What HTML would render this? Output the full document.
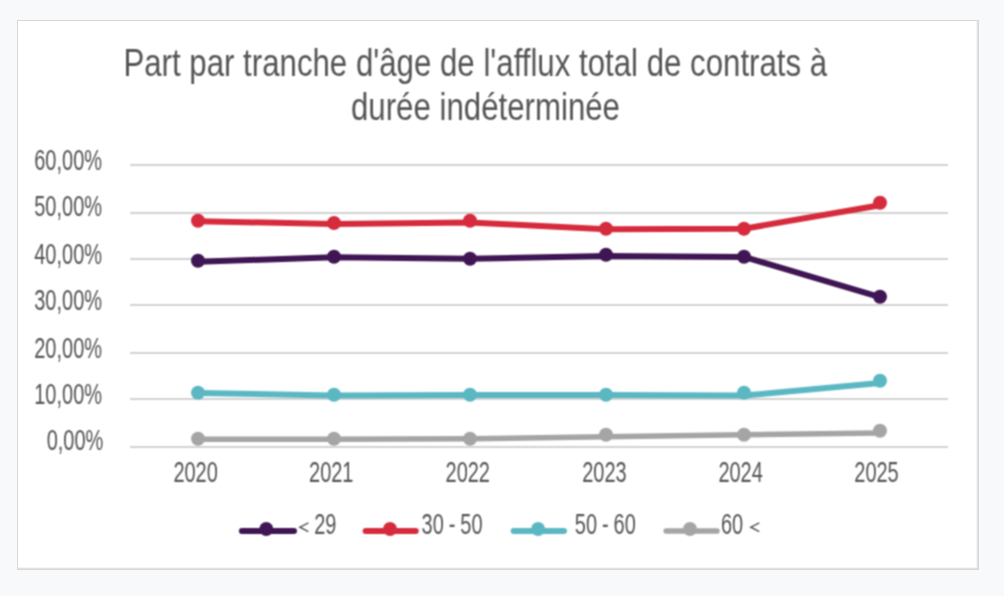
<!DOCTYPE html><html><head><meta charset="utf-8"><title>Chart</title><style>
html,body{margin:0;padding:0;background:#f8f9fb;width:1004px;height:596px;overflow:hidden}svg{display:block}text{font-family:"Liberation Sans",sans-serif;fill:#555555}
</style></head><body>
<svg width="1004" height="596" viewBox="0 0 1004 596">
<rect x="0" y="0" width="1004" height="596" fill="#f8f9fb"/>
<rect x="17" y="20" width="962" height="550" fill="#d8d8d8"/>
<defs><filter id="b" x="18" y="21" width="960" height="548" filterUnits="userSpaceOnUse" color-interpolation-filters="sRGB"><feConvolveMatrix order="3" kernelMatrix="1 2 1 2 4 2 1 2 1" divisor="16" edgeMode="duplicate" preserveAlpha="true"/></filter></defs><g filter="url(#b)">
<rect x="10" y="10" width="980" height="570" fill="#ffffff"/>
<rect x="977" y="10" width="10" height="570" fill="#d8d8d8"/>
<rect x="10" y="568" width="980" height="10" fill="#d8d8d8"/>
<text transform="translate(123.4 76.15) scale(0.7905 1)" font-size="39.5" text-anchor="start">Part par tranche d'âge de l'afflux total de contrats à</text>
<text transform="translate(351 119.6) scale(0.7905 1)" font-size="39.5" text-anchor="start">durée indéterminée</text>
<line x1="130" y1="165" x2="948" y2="165" stroke="#d2d2d2" stroke-width="1.8"/>
<line x1="130" y1="213" x2="948" y2="213" stroke="#d2d2d2" stroke-width="1.8"/>
<line x1="130" y1="259" x2="948" y2="259" stroke="#d2d2d2" stroke-width="1.8"/>
<line x1="130" y1="305" x2="948" y2="305" stroke="#d2d2d2" stroke-width="1.8"/>
<line x1="130" y1="353" x2="948" y2="353" stroke="#d2d2d2" stroke-width="1.8"/>
<line x1="130" y1="399" x2="948" y2="399" stroke="#d2d2d2" stroke-width="1.8"/>
<line x1="130" y1="447" x2="948" y2="447" stroke="#d2d2d2" stroke-width="1.8"/>
<text transform="translate(102 170.25) scale(0.699 1)" font-size="28.6" text-anchor="end">60,00%</text>
<text transform="translate(102 215.95) scale(0.699 1)" font-size="28.6" text-anchor="end">50,00%</text>
<text transform="translate(102 263.95) scale(0.699 1)" font-size="28.6" text-anchor="end">40,00%</text>
<text transform="translate(102 310.25) scale(0.699 1)" font-size="28.6" text-anchor="end">30,00%</text>
<text transform="translate(102 358.45) scale(0.699 1)" font-size="28.6" text-anchor="end">20,00%</text>
<text transform="translate(102 403.85) scale(0.699 1)" font-size="28.6" text-anchor="end">10,00%</text>
<text transform="translate(103.3 449.75) scale(0.699 1)" font-size="28.6" text-anchor="end">0,00%</text>
<text transform="translate(195.6 482.25) scale(0.699 1)" font-size="28.6" text-anchor="middle">2020</text>
<text transform="translate(331.25 482.25) scale(0.699 1)" font-size="28.6" text-anchor="middle">2021</text>
<text transform="translate(467.75 482.25) scale(0.699 1)" font-size="28.6" text-anchor="middle">2022</text>
<text transform="translate(604.4 482.25) scale(0.699 1)" font-size="28.6" text-anchor="middle">2023</text>
<text transform="translate(740.6 482.25) scale(0.699 1)" font-size="28.6" text-anchor="middle">2024</text>
<text transform="translate(876.5 482.25) scale(0.699 1)" font-size="28.6" text-anchor="middle">2025</text>
<polyline points="198,439.25 334,439.25 470,438.75 606,436.75 744,434.75 880,432.95" fill="none" stroke="#a5a5a5" stroke-width="5.5" stroke-linecap="round" stroke-linejoin="round"/>
<circle cx="198" cy="438.75" r="7" fill="#a5a5a5"/>
<circle cx="334" cy="438.75" r="7" fill="#a5a5a5"/>
<circle cx="470" cy="438.75" r="7" fill="#a5a5a5"/>
<circle cx="606" cy="434.75" r="7" fill="#a5a5a5"/>
<circle cx="744" cy="434.75" r="7" fill="#a5a5a5"/>
<circle cx="880" cy="430.75" r="7" fill="#a5a5a5"/>
<polyline points="198,392.95 334,395.45 470,395.05 606,395.05 744,395.6 880,383.1" fill="none" stroke="#5bb8c3" stroke-width="6" stroke-linecap="round" stroke-linejoin="round"/>
<circle cx="198" cy="392.75" r="7" fill="#5bb8c3"/>
<circle cx="334" cy="394.75" r="7" fill="#5bb8c3"/>
<circle cx="470" cy="394.75" r="7" fill="#5bb8c3"/>
<circle cx="606" cy="394.75" r="7" fill="#5bb8c3"/>
<circle cx="744" cy="392.75" r="7" fill="#5bb8c3"/>
<circle cx="880" cy="380.75" r="7" fill="#5bb8c3"/>
<polyline points="198,261.85 334,257.25 470,258.75 606,255.95 744,256.95 880,297.05" fill="none" stroke="#3f1554" stroke-width="6" stroke-linecap="round" stroke-linejoin="round"/>
<circle cx="198" cy="260.75" r="7" fill="#3f1554"/>
<circle cx="334" cy="256.75" r="7" fill="#3f1554"/>
<circle cx="470" cy="258.75" r="7" fill="#3f1554"/>
<circle cx="606" cy="254.75" r="7" fill="#3f1554"/>
<circle cx="744" cy="256.75" r="7" fill="#3f1554"/>
<circle cx="880" cy="296.75" r="7" fill="#3f1554"/>
<polyline points="198,221.25 334,224 470,222.45 606,229.25 744,228.75 880,205.25" fill="none" stroke="#d62b3d" stroke-width="6" stroke-linecap="round" stroke-linejoin="round"/>
<circle cx="198" cy="220.75" r="7" fill="#d62b3d"/>
<circle cx="334" cy="223" r="7" fill="#d62b3d"/>
<circle cx="470" cy="220.75" r="7" fill="#d62b3d"/>
<circle cx="606" cy="228.75" r="7" fill="#d62b3d"/>
<circle cx="744" cy="228.75" r="7" fill="#d62b3d"/>
<circle cx="880" cy="202.75" r="7" fill="#d62b3d"/>
<line x1="241.9" y1="531" x2="294" y2="531" stroke="#3f1554" stroke-width="6" stroke-linecap="round"/>
<circle cx="266.25" cy="529" r="7" fill="#3f1554"/>
<text transform="translate(314.2 534.3) scale(0.699 1)" font-size="28.6" word-spacing="-0.9">29</text>
<polyline points="308.40000000000003,522.8 299.90000000000003,527.2 308.40000000000003,531.6" fill="none" stroke="#555555" stroke-width="1.5"/>
<line x1="365.65" y1="531" x2="415.75" y2="531" stroke="#d62b3d" stroke-width="6" stroke-linecap="round"/>
<circle cx="390" cy="529" r="7" fill="#d62b3d"/>
<text transform="translate(421.6 534.3) scale(0.699 1)" font-size="28.6" word-spacing="-0.9">30 - 50</text>
<line x1="513.65" y1="531" x2="564" y2="531" stroke="#5bb8c3" stroke-width="6" stroke-linecap="round"/>
<circle cx="538.1" cy="529" r="7" fill="#5bb8c3"/>
<text transform="translate(574.85 534.3) scale(0.699 1)" font-size="28.6" word-spacing="-0.9">50 - 60</text>
<line x1="666.15" y1="531" x2="717" y2="531" stroke="#a5a5a5" stroke-width="5.5" stroke-linecap="round"/>
<circle cx="690" cy="529" r="7" fill="#a5a5a5"/>
<text transform="translate(721 534.3) scale(0.699 1)" font-size="28.6" word-spacing="-0.9">60</text>
<polyline points="759.3000000000001,522.8 750.8000000000001,527.2 759.3000000000001,531.6" fill="none" stroke="#555555" stroke-width="1.5"/>
</g></svg></body></html>
